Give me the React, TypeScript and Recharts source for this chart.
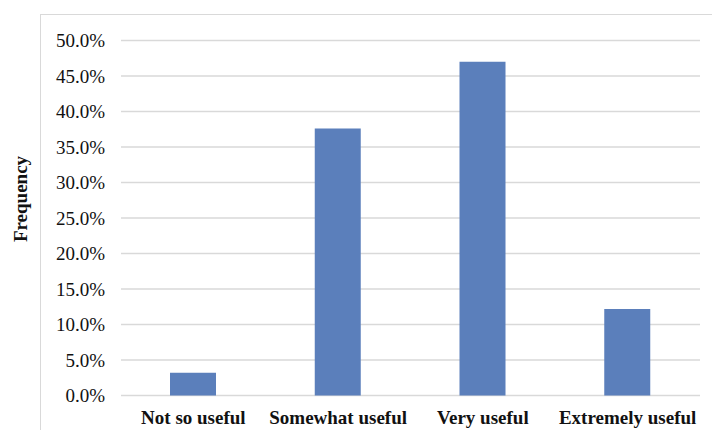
import React from 'react';
import { BarChart, Bar, XAxis, YAxis, CartesianGrid, Label } from 'recharts';

// survey answers and their share of responses (percent)
const categories = ['Not so useful', 'Somewhat useful', 'Very useful', 'Extremely useful'];
const frequency = [3.2, 37.6, 47.0, 12.2];
const yTicks = [0, 5, 10, 15, 20, 25, 30, 35, 40, 45, 50];

const data = categories.map((name, i) => ({ name, value: frequency[i] }));

const serif = '"Liberation Serif", "Times New Roman", serif';
const gridGray = '#d9d9d9';

const formatPercent = (v: number): string => `${v.toFixed(1)}%`;

export default function App() {
  return (
    <div
      style={{
        position: 'relative',
        width: 720,
        height: 438,
        margin: -8,
        overflow: 'hidden',
        background: '#fff',
      }}
    >
      {/* light frame around the chart area */}
      <div
        style={{
          position: 'absolute',
          left: 40,
          top: 14,
          width: 720,
          height: 460,
          border: `1px solid ${gridGray}`,
        }}
      />
      <div style={{ position: 'absolute', left: 0, top: 0 }}>
        <BarChart
          width={720}
          height={438}
          data={data}
          margin={{ top: 40.5, right: 20, bottom: 12.5, left: 0 }}
        >
          <CartesianGrid vertical={false} stroke={gridGray} strokeWidth={1.5} />
          <XAxis
            dataKey="name"
            height={30}
            axisLine={false}
            tickLine={false}
            tickSize={6}
            tickMargin={9}
            interval={0}
            tick={{ fill: '#111', fontFamily: serif, fontSize: 19, fontWeight: 'bold' }}
          />
          <YAxis
            width={121}
            domain={[0, 50]}
            ticks={yTicks}
            axisLine={false}
            tickLine={false}
            tickSize={6}
            tickMargin={10}
            tickFormatter={formatPercent}
            tick={{ fill: '#111', fontFamily: serif, fontSize: 19 }}
          >
            <Label
              value="Frequency"
              angle={-90}
              position="center"
              dx={-40}
              dy={-19}
              style={{ fill: '#111', fontFamily: serif, fontSize: 19, fontWeight: 'bold', textAnchor: 'middle' }}
            />
          </YAxis>
          <Bar dataKey="value" fill="#5b7fbb" barSize={46} isAnimationActive={false} />
        </BarChart>
      </div>
    </div>
  );
}
